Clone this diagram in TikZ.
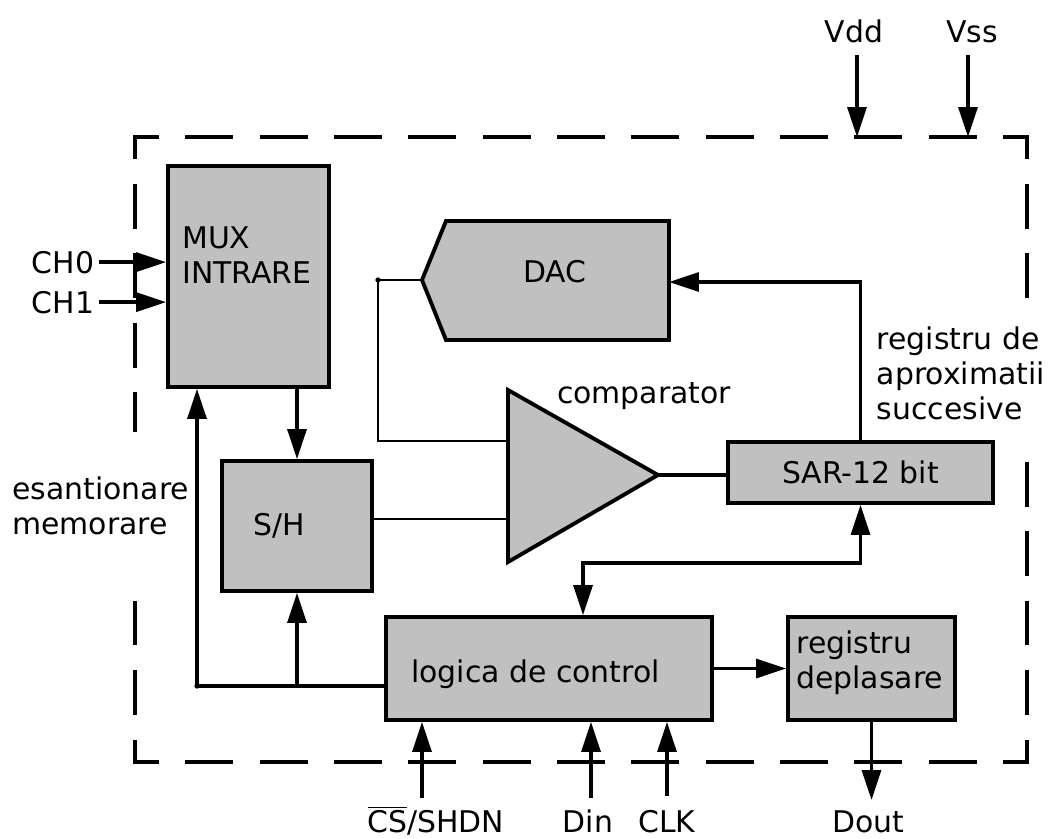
\documentclass[tikz,border=0pt]{standalone}
\usepackage{fontspec}
\setmainfont{DejaVu Sans}
\usetikzlibrary{arrows.meta}
\definecolor{blockgray}{RGB}{192,192,192}
\tikzset{
  blk/.style={draw, fill=blockgray, line width=2.2pt, inner sep=0pt},
  wire/.style={line width=1.9pt},
  thinwire/.style={line width=1.2pt},
  frameh/.style={line width=2.2pt, line cap=rect, dash pattern=on 0.88cm off 0.607cm, dash phase=0.44cm},
  framev/.style={line width=2.2pt, line cap=rect, dash pattern=on 0.82cm off 0.569cm, dash phase=0.41cm},
  arr/.style={-{Triangle[length=0.6cm,width=0.38cm]}},
  arrboth/.style={{Triangle[length=0.6cm,width=0.38cm]}-{Triangle[length=0.6cm,width=0.38cm]}},
  txt/.style={inner sep=0pt, align=left},
  pin/.style={inner sep=2.5pt},
}

\begin{document}
\begin{tikzpicture}[x=0.02cm, y=-0.02cm, font=\fontsize{17}{20}\selectfont]
  \useasboundingbox (0,0) rectangle (1049,839);
  % chenarul circuitului
  \coordinate (fNW) at (135,137);
  \coordinate (fSE) at (1027,762);
  \draw[frameh] (fNW) -- (fNW -| fSE);
  \draw[frameh] (fNW |- fSE) -- (fSE);
  \draw[framev] (fNW) -- (fNW |- fSE);
  \draw[framev] (fNW -| fSE) -- (fSE);

  % blocuri
  \node[blk, minimum width=3.22cm, minimum height=4.42cm] (mux) at (248.5,276.5) {};
  \node[txt, anchor=north west] (muxtxt) at (182,226) {MUX\\INTRARE};
  \node[blk, minimum width=3.0cm, minimum height=2.6cm] (sh) at (297,526) {};
  \node[anchor=base] (shtxt) at (279,535) {S/H};
  \node[blk, minimum width=5.3cm, minimum height=1.22cm] (sar) at (860.5,472.5) {SAR-12 bit};
  \node[blk, minimum width=6.52cm, minimum height=2.06cm] (ctrl) at (549,668.5) {};
  \node[anchor=base west] (ctrltxt) at (405,682) {logica de control};
  \node[blk, minimum width=3.34cm, minimum height=2.06cm] (shreg) at (871.5,668.5) {};
  \node[txt, anchor=north west] (shregtxt) at (796,630) {registru\\deplasare};

  % DAC
  \coordinate (dacin) at (422,280);
  \coordinate (dacref) at (669,282);
  \draw[blk] (dacin) -- (446,221) -- (669,221) -- (669,340) -- (446,340) -- cycle;
  \node (dactxt) at (555,272) {DAC};

  % comparator
  \coordinate (cmpneg) at (508,441);
  \coordinate (cmppos) at (508,519);
  \coordinate (cmpout) at (658,475);
  \draw[blk] (508,390) -- (cmpout) -- (508,562) -- cycle;
  \node[anchor=base] (cmptxt) at (644,403) {comparator};

  % etichete
  \node[txt, fill=white, inner xsep=2pt, inner ysep=0.4cm, anchor=north west] (sarnote) at (873,306) {registru de\\aproximatii\\succesive};
  \node[txt, fill=white, inner xsep=2pt, inner ysep=0.9cm, anchor=west] (shnote) at (8.5,506) {esantionare\\memorare};
  \node[pin, anchor=base east] (ch0) at (99,273) {CH0};
  \node[pin, anchor=base east] (ch1) at (99,313) {CH1};
  \node[anchor=base] (vdd) at (854,42) {Vdd};
  \node[anchor=base] (vss) at (972,42) {Vss};
  \node[anchor=base] (cs) at (436,832) {$\overline{\mbox{CS}}$/SHDN};
  \node[anchor=base] (din) at (588,832) {Din};
  \node[anchor=base] (clk) at (667,832) {CLK};
  \node[anchor=base] (dout) at (868,832) {Dout};

  % pini
  \coordinate (vddpin) at (857,55);
  \coordinate (vsspin) at (968,55);
  \coordinate (cspin) at (422,798);
  \coordinate (dinpin) at (591,798);
  \coordinate (clkpin) at (667,796);
  \coordinate (doutpin) at (870,800);

  % conexiuni
  \draw[wire, arr] (ch0.east) -- (ch0.east -| mux.west);
  \draw[wire, arr] (ch1.east) -- (ch1.east -| mux.west);
  \draw[wire, arr] (vddpin) -- (vddpin |- fNW);
  \draw[wire, arr] (vsspin) -- (vsspin |- fNW);
  \draw[wire, arr] (sh.north |- mux.south) -- (sh.north);
  \coordinate (sampj) at (197,686);
  \draw[wire, arr] (ctrl.west |- sampj) -- (sampj) -- (sampj |- mux.south);
  \draw[wire, arr] (sh.south |- sampj) -- (sh.south);
  \fill (sampj) circle (1.5pt);
  \draw[thinwire] (sh.east |- cmppos) -- (cmppos);
  \coordinate (dacj) at (378,280);
  \draw[thinwire] (dacin) -- (dacj) |- (cmpneg);
  \fill (dacj) circle (1.5pt);
  \draw[wire] (cmpout) -- (sar.west |- cmpout);
  \draw[wire, arr] (sar.north) |- (dacref);
  \coordinate (busj) at (583,563);
  \draw[wire, arrboth] (sar.south) |- (busj) -- (busj |- ctrl.north);
  \draw[wire, arr] (ctrl.east |- shreg.west) -- (shreg.west);
  \draw[wire, arr] (shreg.south) -- (shreg.south |- doutpin);
  \draw[wire, arr] (cspin) -- (cspin |- ctrl.south);
  \draw[wire, arr] (dinpin) -- (dinpin |- ctrl.south);
  \draw[wire, arr] (clkpin) -- (clkpin |- ctrl.south);
\end{tikzpicture}
\end{document}
